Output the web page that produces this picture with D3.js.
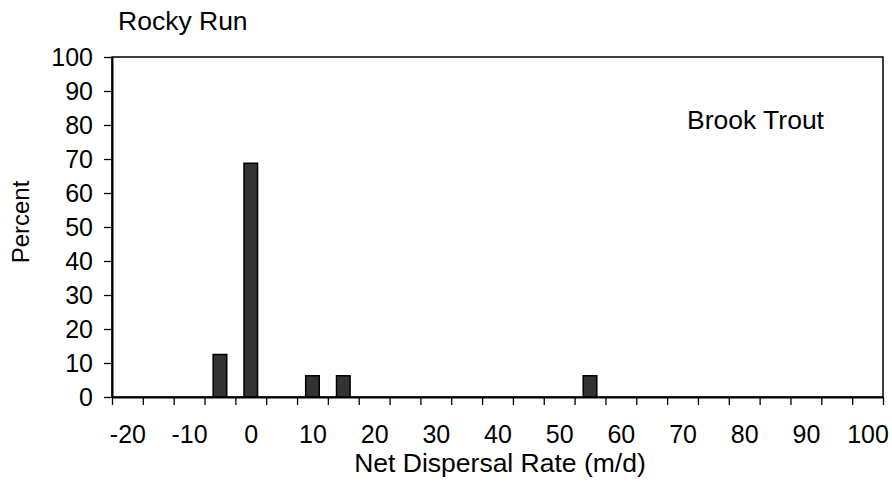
<!DOCTYPE html>
<html>
<head>
<meta charset="utf-8">
<script src="https://cdn.jsdelivr.net/npm/d3@7"></script>
<style>
  html, body { margin: 0; padding: 0; background: #fff; }
  svg { display: block; }
  text { font-family: "Liberation Sans", Arial, sans-serif; fill: #000; }
</style>
</head>
<body>
<svg id="chart" width="892" height="483"></svg>
<script>
// Net dispersal rate bins (m/d), 5 m/d wide
const rateBins = [-20, -15, -10, -5, 0, 5, 10, 15, 20, 25, 30, 35, 40, 45, 50, 55, 60, 65, 70, 75, 80, 85, 90, 95, 100];
// Percent of tagged brook trout falling in each bin
const percentValues = [0, 0, 0, 12.5, 68.75, 0, 6.25, 6.25, 0, 0, 0, 0, 0, 0, 0, 6.25, 0, 0, 0, 0, 0, 0, 0, 0, 0];
const xTickLabels = [-20, -10, 0, 10, 20, 30, 40, 50, 60, 70, 80, 90, 100];
const yTickLabels = [0, 10, 20, 30, 40, 50, 60, 70, 80, 90, 100];

const svg = d3.select("#chart");
const plot = { left: 112, right: 883, top: 57, bottom: 397 };
const binWidth = 5;
const plain = d => String(d);   // hyphen-minus, as in the printed labels

const x = d3.scaleLinear()
  .domain([rateBins[0] - binWidth / 2, rateBins[rateBins.length - 1] + binWidth / 2])
  .range([plot.left, plot.right]);
const y = d3.scaleLinear().domain([0, 100]).range([plot.bottom, plot.top]);
const step = x(binWidth) - x(0);
const barW = step * 0.44;

// plot frame (top and right edges)
svg.append("rect")
  .attr("x", plot.left).attr("y", plot.top)
  .attr("width", plot.right - plot.left).attr("height", plot.bottom - plot.top)
  .attr("fill", "none").attr("stroke", "#000").attr("stroke-width", 1.5);

// bars
svg.append("g").selectAll("rect")
  .data(rateBins.map((b, i) => ({ bin: b, value: percentValues[i] })).filter(d => d.value > 0))
  .join("rect")
  .attr("x", d => x(d.bin) - barW / 2)
  .attr("y", d => y(d.value))
  .attr("width", barW)
  .attr("height", d => y(0) - y(d.value))
  .attr("fill", "#333333")
  .attr("stroke", "#000")
  .attr("stroke-width", 1.5);

// y axis
const yAxis = svg.append("g")
  .attr("transform", `translate(${plot.left},0)`)
  .call(d3.axisLeft(y).tickValues(yTickLabels).tickFormat(plain).tickSize(8).tickPadding(11).tickSizeOuter(0));
yAxis.select(".domain").attr("stroke-width", 2);
yAxis.selectAll(".tick line").attr("stroke-width", 1.3);
yAxis.selectAll(".tick text").attr("font-size", 25).attr("font-family", "Liberation Sans, Arial, sans-serif");

// x axis: tick marks at bin boundaries
const boundaries = rateBins.map(b => b - binWidth / 2).concat([rateBins[rateBins.length - 1] + binWidth / 2]);
const xAxis = svg.append("g")
  .attr("transform", `translate(0,${plot.bottom})`)
  .call(d3.axisBottom(x).tickValues(boundaries).tickSize(8).tickFormat("").tickSizeOuter(0));
xAxis.select(".domain").attr("stroke-width", 2);
xAxis.selectAll(".tick line").attr("stroke-width", 1.3);

// x labels centred under every other bin
const xLabels = svg.append("g")
  .attr("transform", `translate(0,${plot.bottom})`)
  .call(d3.axisBottom(x).tickValues(xTickLabels).tickFormat(plain).tickSize(0).tickPadding(28));
xLabels.select(".domain").remove();
xLabels.selectAll(".tick text").attr("font-size", 25).attr("font-family", "Liberation Sans, Arial, sans-serif");

// titles
svg.append("text").attr("x", 118).attr("y", 30).attr("font-size", 26.5).text("Rocky Run");
svg.append("text").attr("x", 687).attr("y", 129).attr("font-size", 26.5).text("Brook Trout");
svg.append("text")
  .attr("x", 500).attr("y", 472)
  .attr("text-anchor", "middle").attr("font-size", 26.5)
  .text("Net Dispersal Rate (m/d)");
svg.append("text")
  .attr("transform", `translate(29,222) rotate(-90)`)
  .attr("text-anchor", "middle").attr("font-size", 24)
  .text("Percent");
</script>
</body>
</html>
